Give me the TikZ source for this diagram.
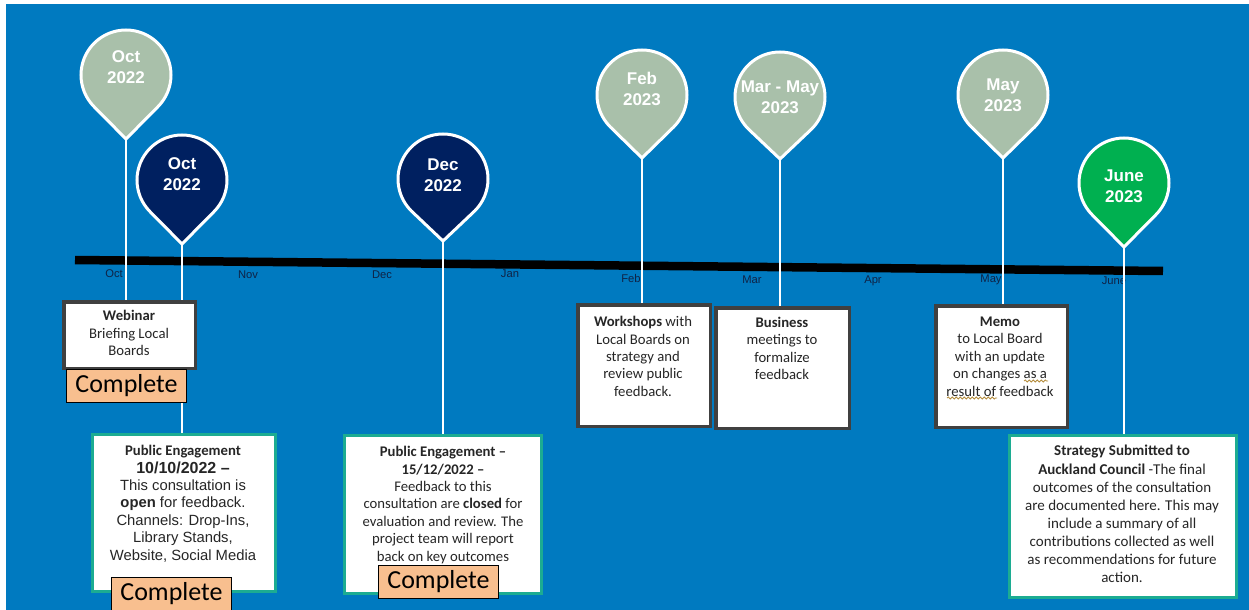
\documentclass[tikz,border=0pt]{standalone}
\usepackage{fontspec}
\setmainfont{Carlito}
\newfontfamily\arialfont{Liberation Sans}
\usetikzlibrary{calc,decorations.pathmorphing}

\definecolor{bgblue}{RGB}{0,122,192}
\definecolor{pingrey}{RGB}{169,192,170}
\definecolor{pinnavy}{RGB}{0,32,96}
\definecolor{pingreen}{RGB}{0,176,80}
\definecolor{boxteal}{RGB}{28,172,146}
\definecolor{boxgrey}{RGB}{64,64,64}
\definecolor{donepeach}{RGB}{248,191,143}
\definecolor{monthnavy}{RGB}{15,35,70}
\definecolor{squig}{RGB}{180,140,60}

\newcommand{\arbody}{\arialfont\fontsize{7.4pt}{8.7pt}\selectfont}

\pgfdeclarelayer{back}
\pgfdeclarelayer{stems}
\pgfsetlayers{back,stems,main}

\begin{document}
\begin{tikzpicture}[x=0.5pt,y=-0.5pt,
	pin/.style={draw=white,line width=1.5pt},
	pintext/.style={text=white,align=center,inner sep=0pt,font=\arialfont\fontsize{8.5pt}{10.5pt}\selectfont\bfseries},
	stem/.style={draw=white,line width=1pt},
	taskbox/.style={draw=boxgrey,line width=1.75pt,fill=white,inner sep=0pt},
	pubbox/.style={draw=boxteal,line width=1.5pt,fill=white,inner sep=0pt},
	tasktext/.style={anchor=north,inner sep=0pt,align=center,text=black!85,font=\fontsize{7.35pt}{8.7pt}\selectfont},
	donebox/.style={draw=black,line width=0.5pt,fill=donepeach,minimum width=60pt,minimum height=16.5pt,inner sep=0pt,font=\fontsize{13pt}{15pt}\selectfont},
	month/.style={text=monthnavy,inner sep=0pt,font=\arialfont\fontsize{5.6pt}{6pt}\selectfont},
	squiggle/.style={draw=squig,line width=0.4pt,decorate,decoration={snake,amplitude=0.5pt,segment length=2pt}}]

	\useasboundingbox (0,0) rectangle (1249,610);

	\begin{pgfonlayer}{back}
	% Background
	\fill[white] (0,0) rectangle (1249,610);
	\fill[bgblue] (6,4) rectangle (1249,610);

	% Timeline bar
	\coordinate (START) at (75,260);
	\coordinate (END) at (1163,271);
	\draw[line width=4.25pt] (START) -- (END);

	% Month labels under the bar
	\foreach \m/\x/\y in {Oct/114/274, Nov/248/275, Dec/382/275, Jan/510/274, Feb/631/278, Mar/752/280, Apr/873/281, May/991/280, June/1114/281}
		\node[month] (m\m) at (\x,\y) {\m};
	\end{pgfonlayer}

	% Pins: tip coordinate, teardrop and date
	\foreach \name/\x/\y/\d/\col/\ty/\txt in {
		OCTA/126/75/64/pingrey/67/{Oct\\2022},
		OCTB/182/180/64/pinnavy/174/{Oct\\2022},
		DEC/443/179/62/pinnavy/175/{Dec\\2022},
		FEB/642/95/63/pingrey/89/{Feb\\2023},
		MARMAY/780/97/62/pingrey/97/{Mar - May\\2023},
		MAY/1003/95/63/pingrey/95/{May\\2023},
		JUNE/1124/183/64/pingreen/186/{June\\2023}}
	{
		\filldraw[pin,fill=\col] ($(\x,\y)+(0,\d)$) coordinate (\name) -- ($(\x,\y)+(135:45)$) arc[start angle=135,end angle=405,radius=45] -- cycle;
		\node[pintext] (\name-t) at (\x,\ty) {\txt};
	}

	% Boxes
	\node[taskbox,minimum width=65.75pt,minimum height=33.25pt] (webinar) at (129.5,335) {};
	\node[tasktext] (webinar-t) at (129,310) {\textbf{Webinar}\\Briefing Local\\Boards};
	\node[donebox] (doneA) at (126.5,386) {Complete};

	\node[pubbox,minimum width=91.5pt,minimum height=78.5pt] (pubA) at (184,513) {};
	\node[tasktext] (pubA-t) at (183,445) {\textbf{Public Engagement}\\{\arialfont\fontsize{8pt}{8.7pt}\selectfont\bfseries 10/10/2022 –}\\{\arbody This consultation is}\\{\arbody\textbf{open} for feedback.}\\{\arbody Channels: Drop-Ins,}\\{\arbody Library Stands,}\\{\arbody Website, Social Media}};
	\node[donebox] (doneB) at (171.5,594) {Complete};

	\node[pubbox,minimum width=98.5pt,minimum height=79pt] (pubB) at (443,514.5) {};
	\node[tasktext] (pubB-t) at (443,446) {\textbf{Public Engagement –}\\\textbf{15/12/2022 –}\\Feedback to this\\consultation are \textbf{closed} for\\evaluation and review. The\\project team will report\\back on key outcomes};
	\node[donebox] (doneC) at (438.5,582) {Complete};

	\node[taskbox,minimum width=66.25pt,minimum height=60.75pt] (workshop) at (644,365.5) {};
	\node[tasktext] (workshop-t) at (643,316) {\textbf{Workshops} with\\Local Boards on\\strategy and\\review public\\feedback.};

	\node[taskbox,minimum width=66.75pt,minimum height=60.25pt] (business) at (782.5,368) {};
	\node[tasktext] (business-t) at (782,316.5) {\textbf{Business}\\meetings to\\formalize\\feedback};

	\node[taskbox,minimum width=65.75pt,minimum height=60.75pt] (memo) at (1001.5,366.5) {};
	\node[tasktext] (memo-t) at (1000,316.5) {\textbf{Memo}\\to Local Board\\with an update\\on changes as a\\result of feedback};
	% spell-check marks under the memo text
	\draw[squiggle] (1024,381) -- (1048,381);
	\draw[squiggle] (947,398) -- (997,398);

	\node[pubbox,minimum width=113.5pt,minimum height=81pt] (strategy) at (1123,516.5) {};
	\node[tasktext,font=\fontsize{7.5pt}{9.05pt}\selectfont] (strategy-t) at (1122,445) {\textbf{Strategy Submitted to}\\\textbf{Auckland Council} -The final\\outcomes of the consultation\\are documented here. This may\\include a summary of all\\contributions collected as well\\as recommendations for future\\action.};

	% Stems from pin tips down to the boxes
	\begin{pgfonlayer}{stems}
	\draw[stem] (OCTA) -- (OCTA |- webinar.north);
	\draw[stem] (OCTB) -- (OCTB |- pubA.north);
	\draw[stem] (DEC) -- (DEC |- pubB.north);
	\draw[stem] (FEB) -- (FEB |- workshop.north);
	\draw[stem] (MARMAY) -- (MARMAY |- business.north);
	\draw[stem] (MAY) -- (MAY |- memo.north);
	\draw[stem] (JUNE) -- (JUNE |- strategy.north);
	\end{pgfonlayer}
\end{tikzpicture}
\end{document}
